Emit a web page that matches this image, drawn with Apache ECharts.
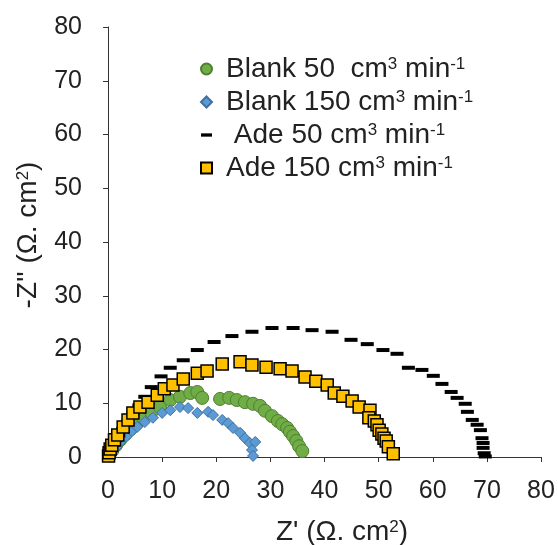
<!DOCTYPE html>
<html><head><meta charset="utf-8">
<script src="https://cdn.jsdelivr.net/npm/echarts@6/dist/echarts.min.js"></script>
<style>html,body{margin:0;padding:0;background:#fff}#c{width:558px;height:545px}</style>
</head><body><div id="c"></div>
<script>
var seriesNames = ["Blank 50 cm3 min-1", "Blank 150 cm3 min-1", "Ade 50 cm3 min-1", "Ade 150 cm3 min-1"];
var xTicks = [0, 10, 20, 30, 40, 50, 60, 70, 80];
var yTicks = [0, 10, 20, 30, 40, 50, 60, 70, 80];

var blank50 = [[0.3,0.3],[0.8,1.2],[1.5,2.2],[2.3,3.2],[3.2,4.2],[4.2,5.2],[5.3,6.3],[6.5,7.3],[8.0,8.3],[9.6,9.3],[11.5,10.6],[13.3,11.2],[15.2,11.9],[16.5,12.1],[17.4,11.0],[20.7,10.8],[22.4,11.0],[23.8,10.6],[25.3,10.2],[26.8,9.9],[28.1,9.5],[29.0,8.6],[30.3,7.6],[31.4,6.7],[32.2,6.1],[33.1,5.4],[33.6,4.7],[34.2,3.9],[34.8,3.0],[35.3,2.0],[35.9,1.1]];
var blank150 = [[0.3,0.2],[0.8,0.9],[1.5,1.8],[2.4,2.9],[3.4,3.8],[4.4,4.8],[5.4,5.6],[6.8,6.5],[8.3,7.3],[10.0,8.2],[11.5,8.7],[13.3,9.3],[14.8,9.1],[16.5,8.2],[18.5,8.4],[19.4,7.8],[21.1,6.9],[22.2,6.3],[23.1,5.4],[24.4,4.5],[25.3,3.5],[26.2,2.6],[27.2,2.8],[26.6,1.3],[26.8,0.2]];
var ade50 = [[0.1,0.2],[0.3,0.8],[0.6,1.5],[1.0,2.3],[1.5,3.2],[2.0,4.0],[2.7,5.2],[3.6,6.6],[4.6,8.0],[5.7,9.6],[6.8,11.2],[8.0,13.0],[9.8,15.0],[11.5,16.6],[13.9,18.0],[16.5,19.9],[19.6,21.4],[22.9,22.5],[26.6,23.3],[30.3,24.0],[34.2,24.0],[37.7,23.6],[41.4,23.3],[44.9,21.8],[47.9,21.0],[50.8,19.9],[53.4,19.2],[55.5,16.6],[58.0,16.2],[60.1,15.1],[61.7,13.6],[63.4,12.1],[64.5,11.0],[66.0,9.9],[66.4,8.4],[67.3,6.9],[68.2,6.0],[68.8,5.0],[69.1,3.5],[69.3,2.6],[69.3,1.7],[69.5,0.7],[69.7,0.1]];
var ade150 = [[0.1,0.2],[0.2,0.8],[0.4,1.5],[0.7,2.2],[1.2,3.2],[1.8,4.1],[2.8,5.6],[3.7,6.9],[4.6,8.2],[5.9,9.3],[7.4,10.2],[9.1,11.5],[10.4,12.7],[12.0,13.4],[13.9,14.5],[16.5,15.6],[18.3,16.0],[21.1,17.3],[24.4,17.7],[26.6,17.1],[29.2,16.7],[31.8,16.4],[34.0,16.0],[36.4,14.9],[38.4,14.1],[40.5,13.4],[41.8,11.9],[43.4,11.3],[45.1,10.4],[46.4,9.3],[48.4,8.7],[48.2,7.3],[49.2,6.7],[49.7,6.0],[50.1,5.0],[50.6,4.3],[51.0,3.5],[51.4,3.0],[51.8,1.9],[52.7,0.6]];

var FONT = 'Liberation Sans, Arial, sans-serif';
var TXT = '#222';
var chart = echarts.init(document.getElementById('c'), null, {renderer: 'canvas'});

function legendFmt(name) {
  var m = name.match(/^(.*) cm3 min-1$/);
  var pre = m[1];
  if (pre === 'Blank 50') pre = 'Blank 50 ';
  if (pre === 'Ade 50') pre = ' Ade 50';
  return '{n|' + pre + ' cm}{s|3}{n| min}{s|-1}';
}
var titleRich = {
  n: {fontFamily: FONT, fontSize: 28, color: TXT, lineHeight: 30},
  s: {fontFamily: FONT, fontSize: 17, color: TXT, lineHeight: 30, padding: [0, 0, 10, 0]}
};

chart.setOption({
  animation: false,
  backgroundColor: '#fff',
  grid: {left: 108, right: 17, top: 27, bottom: 88, containLabel: false, outerBoundsMode: 'none'},
  legend: {
    orient: 'vertical', left: 200, top: 55, itemGap: 5, padding: 0,
    itemWidth: 11, itemHeight: 11, symbolKeepAspect: true,
    data: [
      {name: seriesNames[0], icon: 'circle'},
      {name: seriesNames[1], icon: 'diamond'},
      {name: seriesNames[2], icon: 'path://M0,0h10v3h-10z'},
      {name: seriesNames[3], icon: 'rect'}
    ],
    formatter: legendFmt,
    textStyle: {
      fontFamily: FONT, color: TXT, fontSize: 28, padding: [0, 0, 0, 9],
      rich: {
        n: {fontFamily: FONT, fontSize: 28, color: TXT, lineHeight: 30},
        s: {fontFamily: FONT, fontSize: 17, color: TXT, lineHeight: 30, padding: [0, 0, 10, 0]}
      }
    }
  },
  xAxis: {
    type: 'value', min: xTicks[0], max: xTicks[xTicks.length - 1], interval: 10,
    name: "{n|Z' (Ω. cm}{s|2}{n|)}", nameLocation: 'middle', nameGap: 60,
    nameTextStyle: {fontFamily: FONT, fontSize: 28, color: TXT, padding: [0, 0, 0, 35], rich: titleRich},
    axisLine: {lineStyle: {color: '#333', width: 1}},
    axisTick: {show: true, length: 5, inside: false, lineStyle: {color: '#333'}},
    axisLabel: {fontFamily: FONT, fontSize: 25, color: TXT, margin: 22},
    splitLine: {show: false}
  },
  yAxis: {
    type: 'value', min: yTicks[0], max: yTicks[yTicks.length - 1], interval: 10,
    name: "{n|-Z'' (Ω. cm}{s|2}{n|)}", nameLocation: 'middle', nameGap: 65, nameRotate: 90,
    nameTextStyle: {fontFamily: FONT, fontSize: 28, color: TXT, padding: [0, 0, 0, 14], rich: titleRich},
    axisLine: {show: true, lineStyle: {color: '#333', width: 1}},
    axisTick: {show: true, length: 5, inside: false, lineStyle: {color: '#333'}},
    axisLabel: {fontFamily: FONT, fontSize: 25, color: TXT, margin: 26},
    splitLine: {show: false}
  },
  series: [
    {name: seriesNames[0], type: 'scatter', data: blank50, symbol: 'circle', symbolSize: 13,
     itemStyle: {color: '#70AD47', borderColor: '#4E7F30', borderWidth: 1, opacity: 1}},
    {name: seriesNames[1], type: 'scatter', data: blank150, symbol: 'diamond', symbolSize: 11,
     itemStyle: {color: '#5B9BD5', borderColor: '#41719C', borderWidth: 1, opacity: 1}},
    {name: seriesNames[2], type: 'scatter', data: ade50, symbol: 'rect', symbolSize: [13, 4],
     itemStyle: {color: '#000', opacity: 1}},
    {name: seriesNames[3], type: 'scatter', data: ade150, symbol: 'rect', symbolSize: 12,
     itemStyle: {color: '#FFC000', borderColor: '#000', borderWidth: 1.5, opacity: 1}}
  ]
});
</script>
</body></html>
